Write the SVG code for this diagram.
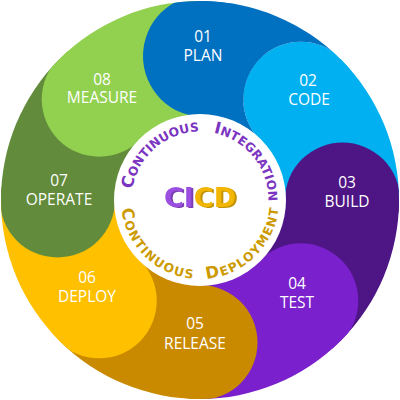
<svg xmlns="http://www.w3.org/2000/svg" width="400" height="400" viewBox="0 0 400 400">
  <style>
    .label { font-family: "Open Sans", "Liberation Sans", sans-serif; font-size: 15.5px; fill: #ffffff; text-anchor: middle; }
    .arc-text { font-family: "DejaVu Sans", "Liberation Sans", sans-serif; font-weight: bold; }
    .ci { fill: #7B35C1; }
    .cd { fill: #CC9A00; letter-spacing: 1.35px; }
    .big { font-size: 16.5px; }
    .small { font-size: 12.3px; }
    .logo { font-family: "DejaVu Sans", "Liberation Sans", sans-serif; font-weight: bold; font-size: 27px; text-anchor: middle; }
  </style>
  <defs>
    <!-- outer disc of the wheel -->
    <clipPath id="disc">
      <circle cx="200" cy="200" r="199"/>
    </clipPath>
    <!-- everything except the CODE cap, so PLAN can sit above MEASURE but below CODE -->
    <clipPath id="under-code">
      <path clip-rule="evenodd" d="M200,-10 A210,210 0 1,1 200,410 A210,210 0 1,1 200,-10 Z M243.26,99.24 A57.5,57.5 0 1,0 358.26,99.24 A57.5,57.5 0 1,0 243.26,99.24 Z"/>
    </clipPath>
    <!-- darker, shifted copy under the glyphs for the extruded logo look -->
    <filter id="extrude" x="-10%" y="-20%" width="130%" height="150%">
      <feColorMatrix in="SourceGraphic" type="matrix" values="0.6 0 0 0 0  0 0.6 0 0 0  0 0 0.6 0 0  0 0 0 1 0" result="dark"/>
      <feOffset in="dark" dx="1.6" dy="1.4" result="side"/>
      <feMerge>
        <feMergeNode in="side"/>
        <feMergeNode in="SourceGraphic"/>
      </feMerge>
    </filter>
    <!-- baselines for the curved hub captions (top: clockwise, bottom: counter-clockwise) -->
    <path id="arc-top" d="M140.67,234.25 A68.5,68.5 0 1,1 259.33,234.25"/>
    <path id="arc-bottom" d="M131.58,160.5 A79,79 0 1,0 268.42,160.5"/>
  </defs>

  <g clip-path="url(#disc)">
    <g id="stage-02-code">
      <path d="M200,200 L341.42,58.58 A200,200 0 0,1 400,200 Z" fill="#00B0F0"/>
      <circle cx="300.76" cy="99.24" r="57.5" fill="#00B0F0"/>
      <text class="label" x="308" y="86">02</text>
      <text class="label" x="309" y="105">CODE</text>
    </g>
    <g id="stage-03-build">
      <path d="M200,200 L400,200 A200,200 0 0,1 341.42,341.42 Z" fill="#4E1585"/>
      <circle cx="342.5" cy="200" r="57.5" fill="#4E1585"/>
      <text class="label" x="347" y="188">03</text>
      <text class="label" x="347" y="207">BUILD</text>
    </g>
    <g id="stage-04-test">
      <path d="M200,200 L341.42,341.42 A200,200 0 0,1 200,400 Z" fill="#7A20CC"/>
      <circle cx="300.76" cy="300.76" r="57.5" fill="#7A20CC"/>
      <text class="label" x="297" y="289">04</text>
      <text class="label" x="297" y="308">TEST</text>
    </g>
    <g id="stage-05-release">
      <path d="M200,200 L200,400 A200,200 0 0,1 58.58,341.42 Z" fill="#CA8A00"/>
      <circle cx="200" cy="342.5" r="57.5" fill="#CA8A00"/>
      <text class="label" x="195" y="329">05</text>
      <text class="label" x="195" y="349">RELEASE</text>
    </g>
    <g id="stage-06-deploy">
      <path d="M200,200 L58.58,341.42 A200,200 0 0,1 0,200 Z" fill="#FFC000"/>
      <circle cx="99.24" cy="300.76" r="57.5" fill="#FFC000"/>
      <text class="label" x="87" y="283">06</text>
      <text class="label" x="87" y="302">DEPLOY</text>
    </g>
    <g id="stage-07-operate">
      <path d="M200,200 L0,200 A200,200 0 0,1 58.58,58.58 Z" fill="#628B3B"/>
      <circle cx="57.5" cy="200" r="57.5" fill="#628B3B"/>
      <text class="label" x="59" y="186">07</text>
      <text class="label" x="59" y="205">OPERATE</text>
    </g>
    <g id="stage-08-measure">
      <path d="M200,200 L58.58,58.58 A200,200 0 0,1 200,0 Z" fill="#92D050"/>
      <circle cx="99.24" cy="99.24" r="57.5" fill="#92D050"/>
      <text class="label" x="102" y="85">08</text>
      <text class="label" x="102" y="103">MEASURE</text>
    </g>
    <g id="stage-01-plan" clip-path="url(#under-code)">
      <path d="M200,200 L200,0 A200,200 0 0,1 341.42,58.58 Z" fill="#0070C0"/>
      <circle cx="204" cy="56" r="61" fill="#0070C0"/>
      <text class="label" x="203" y="42">01</text>
      <text class="label" x="203" y="61">PLAN</text>
    </g>
  </g>

  <g id="hub">
    <circle cx="200" cy="200" r="86" fill="#ffffff"/>
    <text class="arc-text ci">
      <textPath href="#arc-top" startOffset="94.4" text-anchor="middle"><tspan class="big">C</tspan><tspan class="small">ONTINUOUS</tspan></textPath>
    </text>
    <text class="arc-text ci">
      <textPath href="#arc-top" startOffset="204.4" text-anchor="middle"><tspan class="big">I</tspan><tspan class="small">NTEGRATION</tspan></textPath>
    </text>
    <text class="arc-text cd">
      <textPath href="#arc-bottom" startOffset="104.8" text-anchor="middle"><tspan class="big">C</tspan><tspan class="small">ONTINUOUS</tspan></textPath>
    </text>
    <text class="arc-text cd">
      <textPath href="#arc-bottom" startOffset="227.1" text-anchor="middle"><tspan class="big">D</tspan><tspan class="small">EPLOYMENT</tspan></textPath>
    </text>
    <text class="logo" x="200" y="207" filter="url(#extrude)"><tspan fill="#9B50E0">CI</tspan><tspan fill="#F2B600">CD</tspan></text>
  </g>
</svg>
